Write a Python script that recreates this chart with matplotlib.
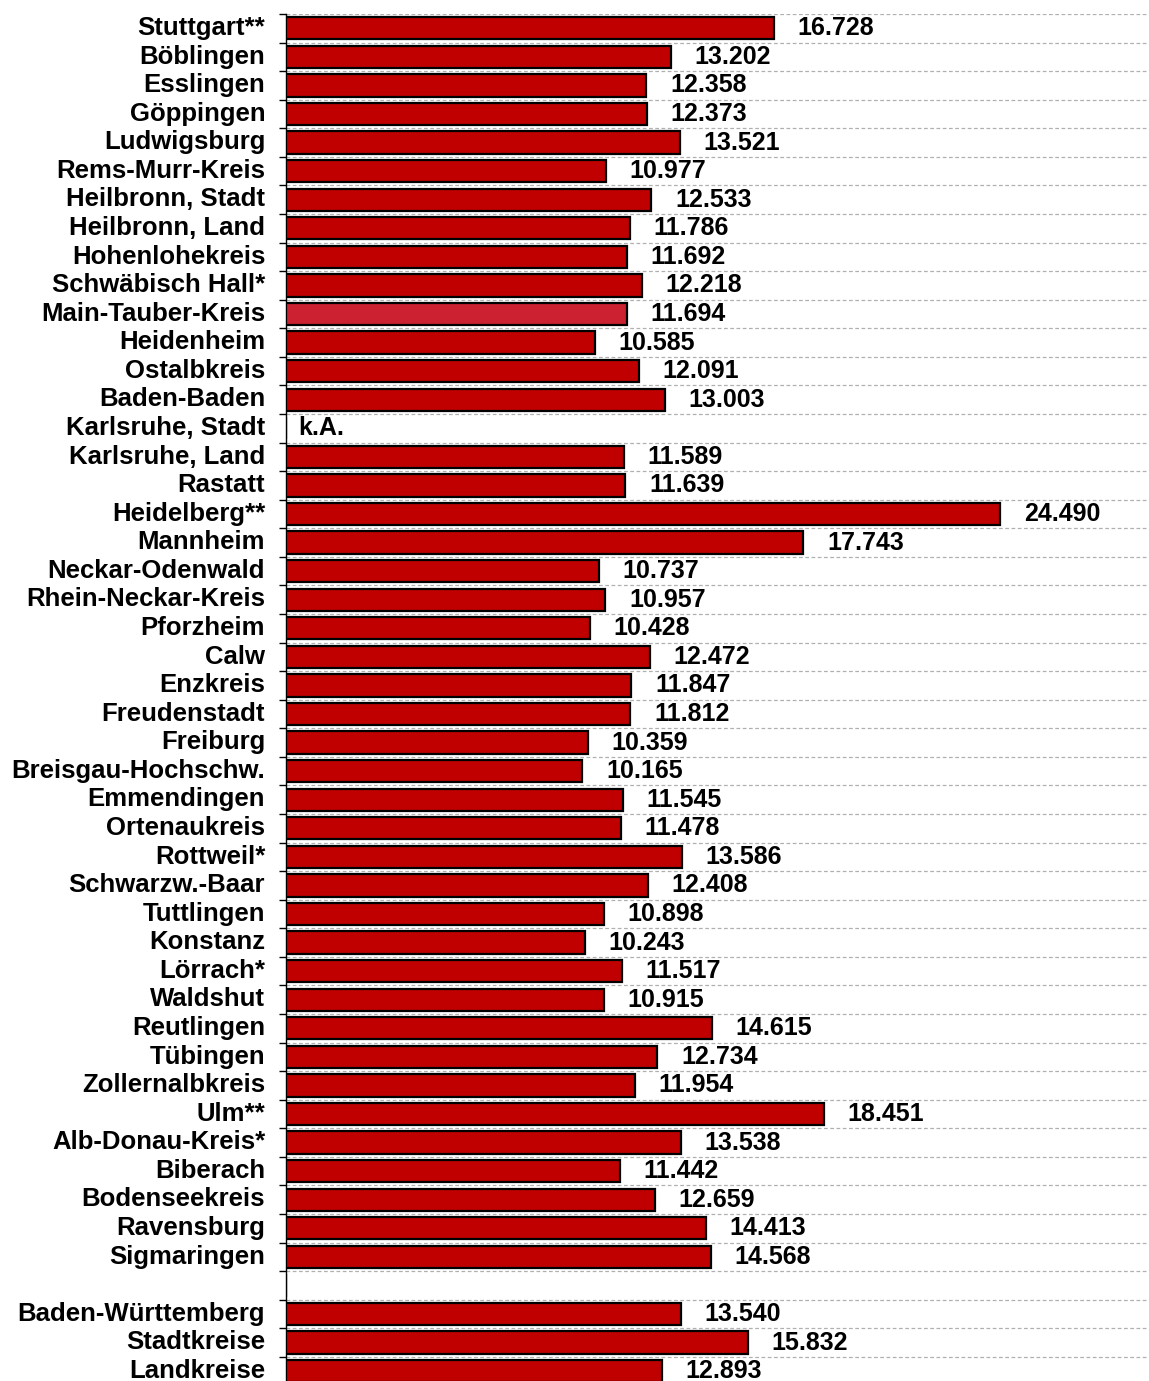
import numpy as np
import matplotlib
matplotlib.use("Agg")
import matplotlib.pyplot as plt
import matplotlib.transforms as mtransforms
from matplotlib.ticker import FixedLocator

categories = [
    "Stuttgart**", "Böblingen", "Esslingen", "Göppingen", "Ludwigsburg",
    "Rems-Murr-Kreis", "Heilbronn, Stadt", "Heilbronn, Land", "Hohenlohekreis",
    "Schwäbisch Hall*", "Main-Tauber-Kreis", "Heidenheim", "Ostalbkreis",
    "Baden-Baden", "Karlsruhe, Stadt", "Karlsruhe, Land", "Rastatt",
    "Heidelberg**", "Mannheim", "Neckar-Odenwald", "Rhein-Neckar-Kreis",
    "Pforzheim", "Calw", "Enzkreis", "Freudenstadt", "Freiburg",
    "Breisgau-Hochschw.", "Emmendingen", "Ortenaukreis", "Rottweil*",
    "Schwarzw.-Baar", "Tuttlingen", "Konstanz", "Lörrach*", "Waldshut",
    "Reutlingen", "Tübingen", "Zollernalbkreis", "Ulm**", "Alb-Donau-Kreis*",
    "Biberach", "Bodenseekreis", "Ravensburg", "Sigmaringen",
    "", "Baden-Württemberg", "Stadtkreise", "Landkreise",
]
values = [
    16.728, 13.202, 12.358, 12.373, 13.521,
    10.977, 12.533, 11.786, 11.692,
    12.218, 11.694, 10.585, 12.091,
    13.003, None, 11.589, 11.639,
    24.490, 17.743, 10.737, 10.957,
    10.428, 12.472, 11.847, 11.812, 10.359,
    10.165, 11.545, 11.478, 13.586,
    12.408, 10.898, 10.243, 11.517, 10.915,
    14.615, 12.734, 11.954, 18.451, 13.538,
    11.442, 12.659, 14.413, 14.568,
    None, 13.540, 15.832, 12.893,
]
highlight = "Main-Tauber-Kreis"
missing_label = "k.A."

plt.rcParams['font.family'] = ['Liberation Sans', 'DejaVu Sans']
plt.rcParams['font.weight'] = 'bold'

W, H = 1149, 1381
fig = plt.figure(figsize=(W / 100, H / 100), dpi=100)
n = len(categories)
row = 28.57
top_px = 14
ax_h = n * row
ax = fig.add_axes([286 / W, (H - top_px - ax_h) / H, (W - 286) / W, ax_h / H])

pos = np.arange(n)
vals = np.array([np.nan if v is None else v for v in values])
colors = ["#CC2131" if c == highlight else "#C00000" for c in categories]
ax.barh(pos, np.nan_to_num(vals), height=0.78, color=colors,
        edgecolor="black", linewidth=1.6, zorder=3)

ax.set_ylim(n - 0.5, -0.5)
ax.set_xlim(0, 29.6)

FS = 18
for i, (c, v) in enumerate(zip(categories, values)):
    if c == "":
        continue
    if v is None:
        ax.annotate(missing_label, (0, i), xytext=(9, 0), textcoords="offset points",
                    ha="left", va="center", fontsize=FS, fontweight="bold")
    else:
        ax.annotate(f"{v:.3f}", (v, i), xytext=(17, 0), textcoords="offset points",
                    ha="left", va="center", fontsize=FS, fontweight="bold")

# boundaries as major ticks with gridlines; labels on minor ticks
ax.yaxis.set_major_locator(FixedLocator(np.arange(-0.5, n, 1.0)))
ax.yaxis.set_minor_locator(FixedLocator(pos))
ax.set_yticklabels([], minor=False)
ax.set_yticklabels(categories, minor=True, fontsize=18.5, fontweight="bold")
ax.tick_params(axis="y", which="major", length=5, width=1, direction="out", color="black")
ax.tick_params(axis="y", which="minor", length=0, pad=15)
shift = mtransforms.ScaledTranslation(0, 2 / 72, fig.dpi_scale_trans)
for lbl in ax.get_yticklabels(minor=True):
    lbl.set_transform(lbl.get_transform() + shift)
ax.grid(axis="y", which="major", linestyle=(0, (3, 2)), color="#B0B0B0", linewidth=0.9, zorder=0)
ax.set_axisbelow(True)

ax.set_xticks([])
for s in ["top", "right", "bottom"]:
    ax.spines[s].set_visible(False)
ax.spines["left"].set_color("black")
ax.spines["left"].set_linewidth(1.0)

fig.savefig("out.png", dpi=100)
